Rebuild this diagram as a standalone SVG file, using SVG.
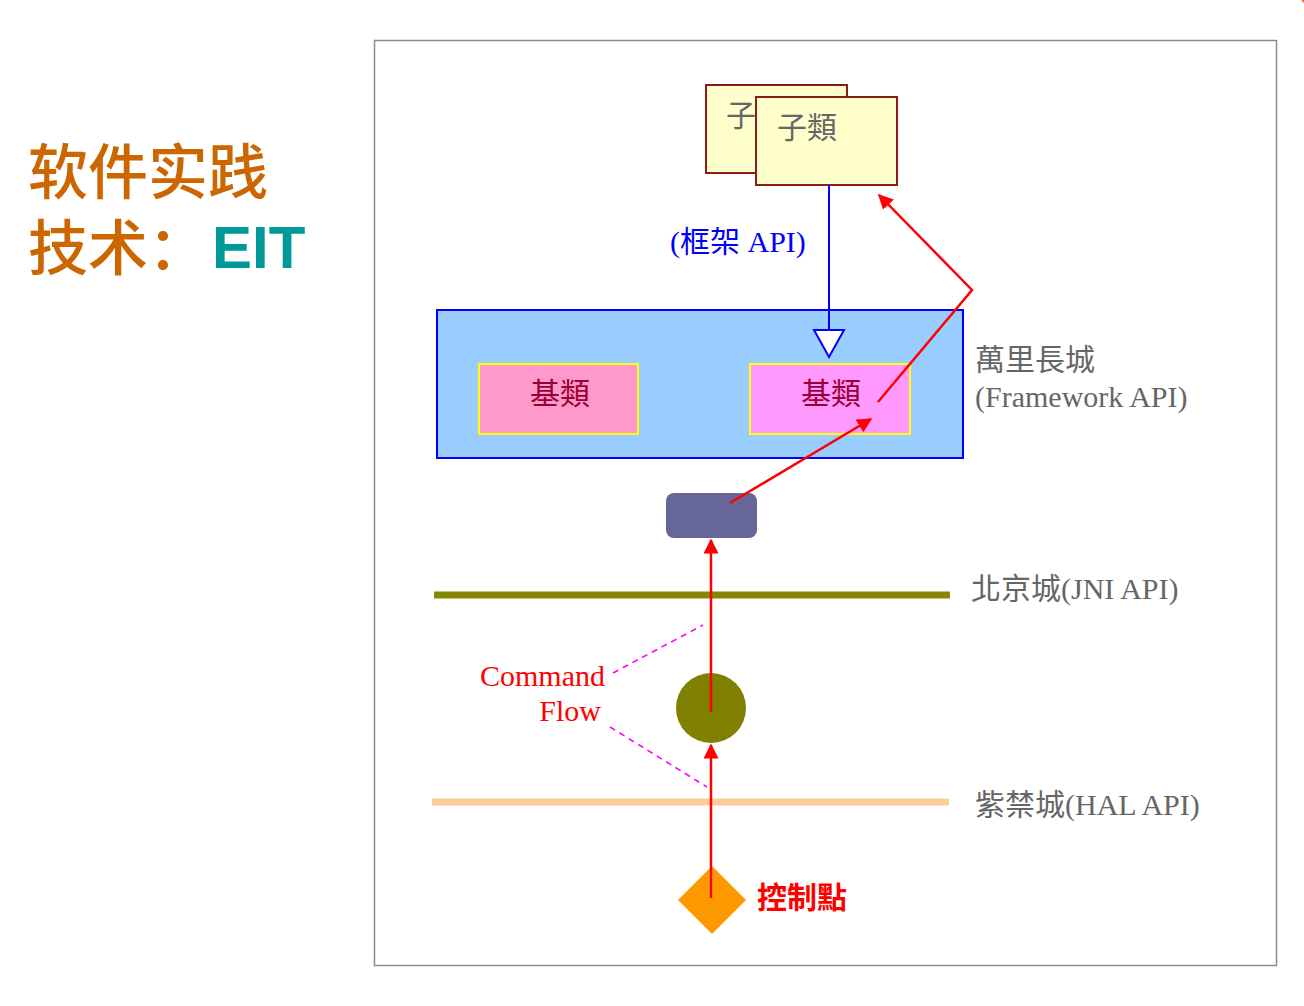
<svg xmlns="http://www.w3.org/2000/svg" width="1304" height="1006" viewBox="0 0 1304 1006">
<defs>
<style>
.serif{font-family:"Liberation Serif","Noto Sans CJK TC",serif;font-size:30px}
.gray{fill:#666666}
.card{fill:#FFFFCC;stroke:#8B1A1A;stroke-width:2}
.base{stroke:#FFFF00;stroke-width:2}
.basetext{fill:#990033;text-anchor:middle}
.red{stroke:#FF0000;stroke-width:2.5;fill:none}
.dash{stroke:#FF00FF;stroke-width:1.6;stroke-dasharray:6,5;fill:none}
.title{font-family:"Noto Sans CJK SC",sans-serif;font-size:60px;font-weight:500;fill:#CC6600}
</style>
<marker id="ahr" viewBox="0 0 10 10" refX="9" refY="5" markerWidth="6" markerHeight="6" orient="auto">
<path d="M0,0 L10,5 L0,10 z" fill="#FF0000"/>
</marker>
</defs>
<rect width="1304" height="1006" fill="#FFFFFF"/>
<circle cx="1322" cy="-14" r="25" fill="#F07232"/>
<g id="title">
<text class="title" x="28" y="194">软件实践</text>
<text class="title" x="28" y="270">技术：</text>
<text x="212" y="268" font-family="'Liberation Sans',Arial,sans-serif" font-weight="bold" fill="#009999" font-size="60">EIT</text>
</g>
<rect id="frame" x="374.5" y="40.5" width="902" height="925" fill="none" stroke="#8C8C8C" stroke-width="1.5"/>
<g id="subclass-back">
<rect class="card" x="706" y="85" width="141" height="88"/>
<text class="serif gray" x="726" y="126">子</text>
</g>
<g id="subclass-front">
<rect class="card" x="756" y="97" width="141" height="88"/>
<text class="serif gray" x="777" y="138">子類</text>
</g>
<g id="framework">
<rect x="437" y="310" width="526" height="148" fill="#99CCFF" stroke="#0000FF" stroke-width="2"/>
</g>
<g id="base-left">
<rect class="base" x="479" y="364" width="159" height="70" fill="#FF99CC"/>
<text class="serif basetext" x="560" y="404">基類</text>
</g>
<g id="base-right">
<rect class="base" x="750" y="364" width="160" height="70" fill="#FF99FF"/>
<text class="serif basetext" x="831" y="404">基類</text>
</g>
<g id="framework-label">
<text class="serif gray" x="975" y="370">萬里長城</text>
<text class="serif gray" x="975" y="407">(Framework API)</text>
</g>
<g id="native-box">
<rect x="666" y="493" width="91" height="45" rx="8" fill="#666699"/>
</g>
<g id="jni-line">
<line x1="434" y1="595" x2="950" y2="595" stroke="#868600" stroke-width="7"/>
<text class="serif gray" x="971" y="599">北京城(JNI API)</text>
</g>
<g id="hal-line">
<line x1="432" y1="802" x2="949" y2="802" stroke="#FFCC99" stroke-width="7"/>
<text class="serif gray" x="975" y="815">紫禁城(HAL API)</text>
</g>
<g id="hal-node">
<circle cx="711" cy="708" r="35" fill="#808000"/>
</g>
<g id="control-point">
<polygon points="712,866 746,900 712,934 678,900" fill="#FF9900"/>
<text x="757" y="908" font-family="'Noto Sans CJK TC',sans-serif" font-size="30" font-weight="bold" fill="#FF0000">控制點</text>
</g>
<g id="command-flow">
<text class="serif" x="605" y="686" fill="#FF0000" text-anchor="end">Command</text>
<text class="serif" x="601" y="721" fill="#FF0000" text-anchor="end">Flow</text>
</g>
<g id="connectors">
<line x1="829" y1="185" x2="829" y2="330" stroke="#0000FF" stroke-width="2"/>
<polygon points="814,330 844,330 829,357" fill="#FFFFFF" stroke="#0000FF" stroke-width="2"/>
<text class="serif" x="670" y="252" fill="#0000FF">(框架 API)</text>
<polyline class="red" points="878,402 972,290 879,195" marker-end="url(#ahr)"/>
<line class="red" x1="730" y1="503" x2="871" y2="419" marker-end="url(#ahr)"/>
<line class="red" x1="711" y1="712" x2="711" y2="540" marker-end="url(#ahr)"/>
<line class="red" x1="711" y1="898" x2="711" y2="745" marker-end="url(#ahr)"/>
<line class="dash" x1="613" y1="673" x2="703" y2="625"/>
<line class="dash" x1="610" y1="727" x2="707" y2="787"/>
</g>
</svg>
